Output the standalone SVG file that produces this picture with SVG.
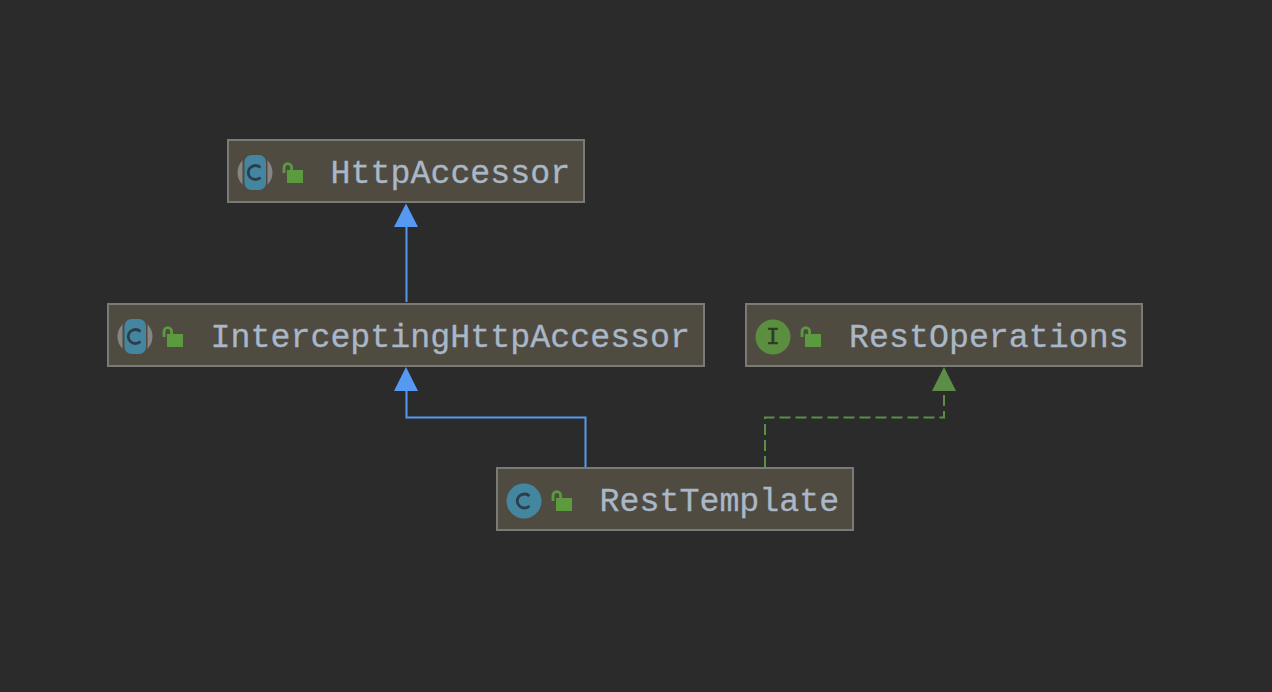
<svg xmlns="http://www.w3.org/2000/svg" width="1272" height="692" viewBox="0 0 1272 692">
<style>
.box{fill:#4f4b41;stroke:#7a7a76;stroke-width:2}
.t{font-family:"Liberation Mono","DejaVu Sans Mono",monospace;font-size:33.300px;fill:#a9b7c6;stroke:#a9b7c6;stroke-width:.3}
.lk{fill:#5c9a40}
.sh{fill:none;stroke:#5c9a40;stroke-width:2.800}
.cl{fill:#44869f}
.ab{fill:#858585}
.gap{fill:#4f4b41}
.c{fill:none;stroke:#2c3e4c;stroke-width:2.800}
.i{font-family:"Liberation Mono",monospace;font-size:23px;fill:#2e3a24;stroke:#2e3a24;stroke-width:.5;text-anchor:middle}
</style>
<defs>
<g id="lock"><rect class="lk" x="5" y="7" width="16" height="13"/><path class="sh" d="M2 10V4.500A3.800 3.800 0 0 1 9.600 4.500V7"/></g>
<g id="abs"><circle class="ab" cx="17" cy="17" r="17.500"/><rect class="gap" x="4.500" y="-1" width="25" height="36"/><rect class="cl" x="6.500" y="-0.500" width="21.500" height="35" rx="7"/><path class="c" d="M22.500 12A7.200 7 0 1 0 22.500 22"/></g>
</defs>
<rect width="1272" height="692" fill="#2b2b2b"/>
<g id="connectors">
<path d="M406.500 302V226" fill="none" stroke="#5599f2" stroke-width="2"/>
<path d="M406 203.500L418 227H394Z" fill="#5599f2"/>
<path d="M585.500 467V417.500H406.500V390" fill="none" stroke="#5599f2" stroke-width="2"/>
<path d="M406 367L418 391H394Z" fill="#5599f2"/>
<path d="M765 467V417.500H944V391" fill="none" stroke="#5c8e48" stroke-width="2" stroke-dasharray="11 5"/>
<path d="M944 367L956 391H932Z" fill="#5c8e48"/>
</g>
<g id="HttpAccessor">
<rect class="box" x="228" y="140" width="356" height="62"/>
<use href="#abs" x="238" y="155.500"/>
<use href="#lock" x="282" y="163"/>
<text class="t" x="330.500" y="182.500">HttpAccessor</text>
</g>
<g id="InterceptingHttpAccessor">
<rect class="box" x="108" y="304" width="596" height="62"/>
<use href="#abs" x="118" y="319.500"/>
<use href="#lock" x="162" y="327"/>
<text class="t" x="210.500" y="346.500">InterceptingHttpAccessor</text>
</g>
<g id="RestOperations">
<rect class="box" x="746" y="304" width="396" height="62"/>
<circle cx="773" cy="337" r="17.500" fill="#5c8e40"/>
<text class="i" x="773" y="344">I</text>
<use href="#lock" x="800" y="327"/>
<text class="t" x="849" y="346.500">RestOperations</text>
</g>
<g id="RestTemplate">
<rect class="box" x="497" y="468" width="356" height="62"/>
<circle class="cl" cx="524" cy="501" r="17.500"/>
<path class="c" d="M529.500 496A7.200 7 0 1 0 529.500 506"/>
<use href="#lock" x="551" y="491"/>
<text class="t" x="599.500" y="510.500">RestTemplate</text>
</g>
</svg>
